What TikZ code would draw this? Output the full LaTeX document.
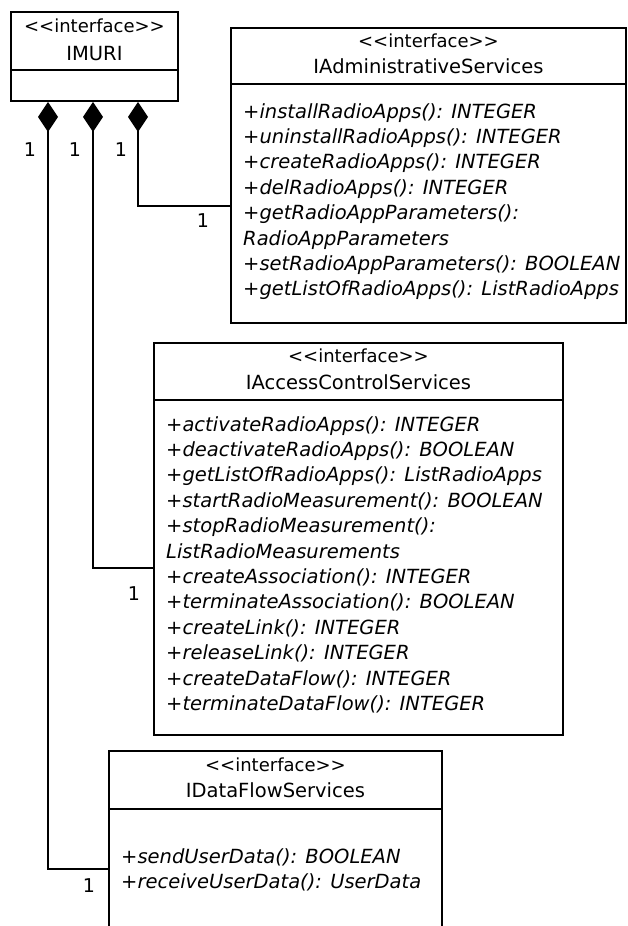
\documentclass[tikz,border=0pt]{standalone}
\usepackage{fontspec}
\setmainfont{DejaVu Sans}
\usetikzlibrary{arrows.meta,positioning}

% << and >> without the TeX guillemet ligature
\newcommand{\stereotype}[1]{<\kern0pt<#1>\kern0pt>}

\tikzset{
  umlbox/.style={draw, line width=1.9pt, inner sep=0pt, anchor=north west},
  divider/.style={line width=1.9pt},
  stereo/.style={inner sep=0pt, font=\fontsize{18}{20}\selectfont, text height=13pt, text depth=0pt},
  clsname/.style={inner sep=0pt, font=\fontsize{19.5}{22}\selectfont, text height=14.2pt, text depth=0pt},
  ops/.style={inner sep=0pt, align=left, anchor=north west, font=\fontsize{19.5}{25.4}\selectfont\itshape},
  mult/.style={inner sep=0pt, font=\fontsize{19}{20}\selectfont, text height=13.8pt, text depth=0pt},
  comp/.style={{Diamond[length=30pt,width=20pt]}-, line width=1.7pt}
}

\begin{document}
\begin{tikzpicture}[x=1pt, y=-1pt]
    \clip (0,0) rectangle (627,926);

    % IMURI
    \node[umlbox, minimum width=167, minimum height=89] (imuri) at (10,11) {};
    \draw[divider] (imuri.west |- 0,70) -- (imuri.east |- 0,70);
    \node[stereo] (imuri-st) at (imuri.north |- 0,26) {\stereotype{interface}};
    \node[clsname] (imuri-nm) at (imuri.north |- 0,53) {IMURI};

    % IAdministrativeServices
    \node[umlbox, minimum width=395, minimum height=295] (admin) at (230,27) {};
    \draw[divider] (admin.west |- 0,84) -- (admin.east |- 0,84);
    \node[stereo] (admin-st) at (admin.north |- 0,41) {\stereotype{interface}};
    \node[clsname] (admin-nm) at (admin.north |- 0,66) {IAdministrativeServices};
    \node[ops] (admin-ops) at (243,103) {%
        +installRadioApps(): INTEGER\\
        +uninstallRadioApps(): INTEGER\\
        +createRadioApps(): INTEGER\\
        +delRadioApps(): INTEGER\\
        +getRadioAppParameters():\\
        RadioAppParameters\\
        +setRadioAppParameters(): BOOLEAN\\
        +getListOfRadioApps(): ListRadioApps};

    % IAccessControlServices
    \node[umlbox, minimum width=409, minimum height=392] (access) at (153,342) {};
    \draw[divider] (access.west |- 0,400) -- (access.east |- 0,400);
    \node[stereo] (access-st) at (access.north |- 0,356) {\stereotype{interface}};
    \node[clsname] (access-nm) at (access.north |- 0,382) {IAccessControlServices};
    \node[ops] (access-ops) at (166,416) {%
        +activateRadioApps(): INTEGER\\
        +deactivateRadioApps(): BOOLEAN\\
        +getListOfRadioApps(): ListRadioApps\\
        +startRadioMeasurement(): BOOLEAN\\
        +stopRadioMeasurement():\\
        ListRadioMeasurements\\
        +createAssociation(): INTEGER\\
        +terminateAssociation(): BOOLEAN\\
        +createLink(): INTEGER\\
        +releaseLink(): INTEGER\\
        +createDataFlow(): INTEGER\\
        +terminateDataFlow(): INTEGER};

    % IDataFlowServices
    \node[umlbox, minimum width=333, minimum height=200] (dflow) at (108,750) {};
    \draw[divider] (dflow.west |- 0,809) -- (dflow.east |- 0,809);
    \node[stereo] (dflow-st) at (dflow.north |- 0,765) {\stereotype{interface}};
    \node[clsname] (dflow-nm) at (dflow.north |- 0,790) {IDataFlowServices};
    \node[ops] (dflow-ops) at (121,848) {%
        +sendUserData(): BOOLEAN\\
        +receiveUserData(): UserData};

    % Compositions
    \coordinate (m1) at ([xshift=38]imuri.south west);
    \coordinate (m2) at ([xshift=83]imuri.south west);
    \coordinate (m3) at ([xshift=128]imuri.south west);
    \draw[comp] (m3) |- ([yshift=-179]admin.north west);
    \draw[comp] (m2) |- ([yshift=-226]access.north west);
    \draw[comp] (m1) |- ([yshift=-119]dflow.north west);

    % Multiplicities
    \node[mult] (m1-top) at (30,150) {1};
    \node[mult] (m2-top) at (75,150) {1};
    \node[mult] (m3-top) at (121,150) {1};
    \node[mult] (admin-end) at (203,221) {1};
    \node[mult] (access-end) at (134,594) {1};
    \node[mult] (dflow-end) at (89,886) {1};
\end{tikzpicture}
\end{document}
